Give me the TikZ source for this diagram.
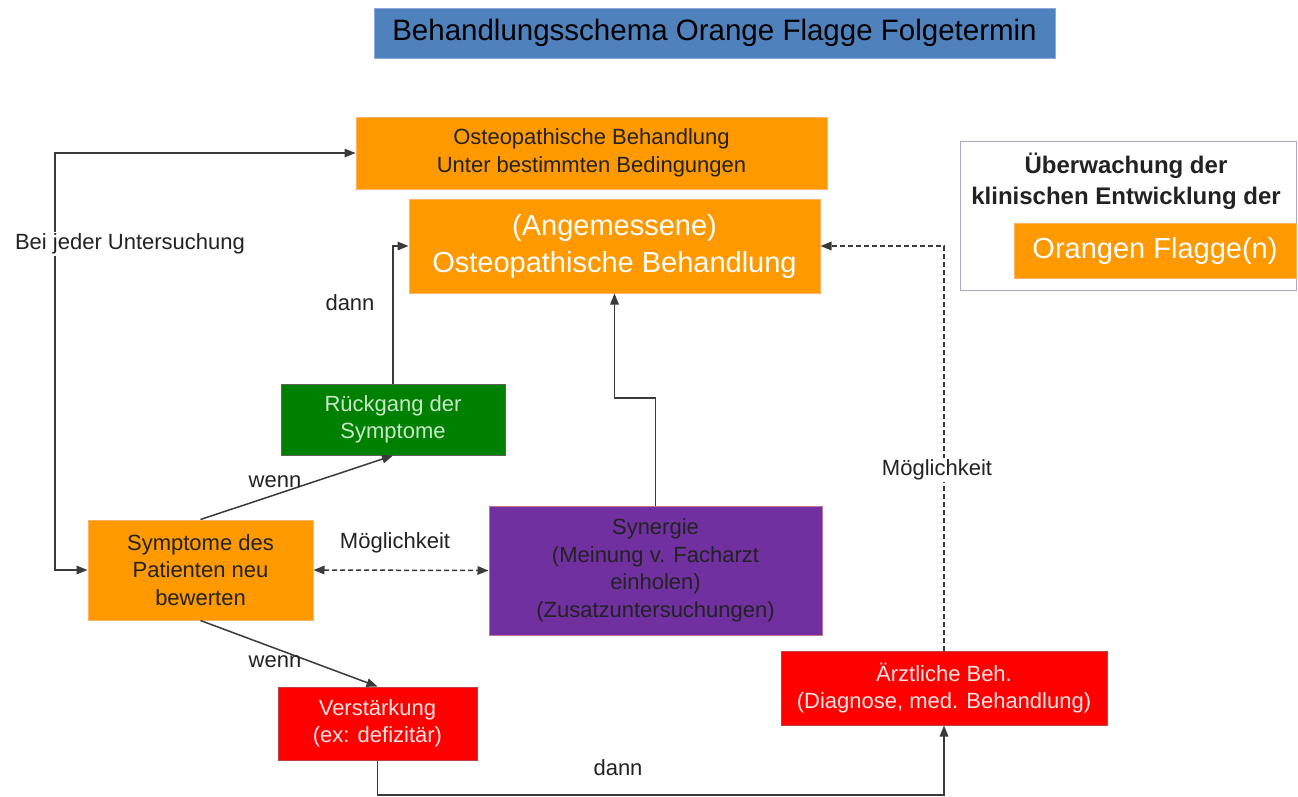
\documentclass[tikz,border=0pt]{standalone}
\usepackage{fontspec}
\setmainfont{Liberation Sans}
\usetikzlibrary{arrows.meta}
\definecolor{orng}{HTML}{FF9900}
\definecolor{orngline}{HTML}{FFB366}
\definecolor{titleblue}{HTML}{4F81BD}
\definecolor{titleline}{HTML}{8FA8DC}
\definecolor{grn}{HTML}{008000}
\definecolor{prpl}{HTML}{7030A0}
\definecolor{prplline}{HTML}{C07888}
\definecolor{rd}{HTML}{FF0000}
\definecolor{rdline}{HTML}{C04040}
\definecolor{conn}{HTML}{3A3A3A}
\definecolor{ueline}{HTML}{A8A8CC}
\definecolor{txtdark}{HTML}{222222}
\definecolor{txtgreen}{HTML}{C8E8C8}
\definecolor{txtpink}{HTML}{FFE4E4}
\tikzset{
  box/.style={draw, line width=1pt, inner sep=0pt, align=center},
  small/.style={font=\fontsize{22}{27.5}\selectfont},
  big/.style={font=\fontsize{29}{37}\selectfont},
  orangebox/.style={box, fill=orng, draw=orngline},
  tip/.style={Triangle[length=11pt,width=8.5pt]},
  arr/.style={draw=conn, line width=1.5pt, -{Triangle[length=11pt,width=8.5pt]}},
  dblarr/.style={draw=conn, line width=1.5pt, {Triangle[length=11pt,width=8.5pt]}-{Triangle[length=11pt,width=8.5pt]}},
  dsh/.style={dash pattern=on 5pt off 3pt},
  lbl/.style={small, text=txtdark, inner sep=2pt},
  lblbg/.style={lbl, fill=white}
}
\begin{document}
\begin{tikzpicture}[x=1pt,y=-1pt]
\useasboundingbox[fill=white] (0,0) rectangle (1298,796);

% title
\node[box, fill=titleblue, draw=titleline, minimum width=681pt, minimum height=50pt,
      font=\fontsize{29.5}{34}\selectfont, text=black] (title) at (714.5,33) {Behandlungsschema Orange Flagge Folgetermin};

% boxes
\node[orangebox, small, text=txtdark, minimum width=471pt, minimum height=72pt] (A) at (591.5,153)
  {Osteopathische Behandlung\\Unter bestimmten Bedingungen};
\node[orangebox, big, text=white, minimum width=411pt, minimum height=94pt] (B) at (614.5,246)
  {(Angemessene)\\Osteopathische Behandlung};

\node[box, draw=ueline, fill=white, minimum width=336pt, minimum height=149pt] (U) at (1128,215.5) {};
\node[inner sep=0pt, align=center, text=txtdark, font=\bfseries\fontsize{24}{31}\selectfont] (Ut) at (1126,181)
  {Überwachung der\\klinischen Entwicklung der};
\node[orangebox, big, text=white, minimum width=282pt, minimum height=55pt] (F) at (1155,250.5) {Orangen Flagge(n)};

\node[box, fill=grn, draw=conn!80, small, text=txtgreen, minimum width=224pt, minimum height=71pt] (G) at (393,419.5)
  {Rückgang der\\Symptome};
\node[orangebox, small, text=txtdark, minimum width=225pt, minimum height=100pt] (S) at (200.5,570)
  {Symptome des\\Patienten neu\\bewerten};
\node[box, fill=prpl, draw=prplline, small, text=txtdark, minimum width=333pt, minimum height=129pt] (P) at (655.5,570.5)
  {Synergie\\(Meinung v. Facharzt\\einholen)\\(Zusatzuntersuchungen)};
\node[box, fill=rd, draw=rdline, small, text=txtpink, minimum width=199pt, minimum height=73pt] (V) at (377.5,723.5)
  {Verstärkung\\(ex: defizitär)};
\node[box, fill=rd, draw=rdline, small, text=txtpink, minimum width=326pt, minimum height=74pt] (R) at (944,688)
  {Ärztliche Beh.\\(Diagnose, med. Behandlung)};

% connectors
\coordinate (lc) at (55,153);
\draw[dblarr] (S.west) -| (lc) -- (A.west);
\node[lblbg] (l1) at (130,244) {Bei jeder Untersuchung};

\draw[arr] (S.north) -- (G.south);
\node[lbl] (l2) at (275,482) {wenn};

\draw[arr] (G.north) |- (B.west);
\node[lbl] (l3) at (350,303) {dann};

\draw[arr] (S.south) -- (V.north);
\node[lbl] (l4) at (275,662) {wenn};

\draw[dblarr, dsh] (S.east) -- (P.west);
\node[lblbg] (l5) at (395,543) {Möglichkeit};

\coordinate (pk) at (655.5,398);
\draw[arr] (P.north) -- (pk) -| (B.south);

\coordinate (vk) at (377.5,795);
\draw[arr] (V.south) -- (vk) -| (R.south);
\node[lbl] (l6) at (618,768) {dann};

\draw[arr, dsh] (R.north) |- (B.east);
\node[lblbg] (l7) at (937,470) {Möglichkeit};
\end{tikzpicture}
\end{document}
